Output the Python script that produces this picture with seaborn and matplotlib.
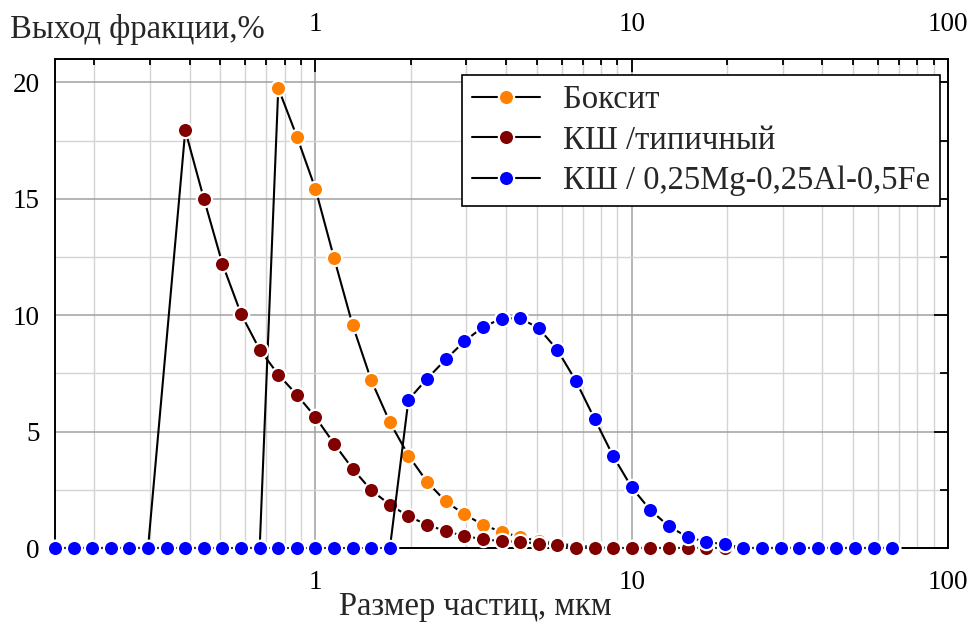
import numpy as np
import pandas as pd
import matplotlib
matplotlib.use("Agg")
import matplotlib.pyplot as plt
import seaborn as sns
from matplotlib.ticker import LogLocator, FuncFormatter, MultipleLocator, NullFormatter

sns.set_style("white")
plt.rcParams['font.family'] = ['Liberation Serif', 'DejaVu Serif']

# размер частиц, мкм
size = [0.1501, 0.1719, 0.1968, 0.2254, 0.2581, 0.2955, 0.3384, 0.3875, 0.4437, 0.5080,
        0.5817, 0.6661, 0.7627, 0.8733, 1.0, 1.145, 1.311, 1.501, 1.719, 1.968,
        2.254, 2.581, 2.955, 3.384, 3.875, 4.437, 5.080, 5.817, 6.661, 7.627,
        8.733, 10.0, 11.45, 13.11, 15.01, 17.19, 19.68, 22.54, 25.81, 29.55,
        33.84, 38.75, 44.37, 50.80, 58.17, 66.61]

# выход фракции, %  (nan - точки нет)
boksit = [0] * 12 + [19.75, 17.67, 15.42, 12.45, 9.57, 7.2, 5.4, 3.97, 2.84, 2.0,
                     1.45, 1.0, 0.69, 0.47, 0.3, 0.19, 0.1, 0.04] + [0] * 16
ksh_typ = [0] * 6 + [np.nan] + [17.93, 15.0, 12.2, 10.05, 8.52, 7.45, 6.58, 5.62, 4.48, 3.4,
                                2.48, 1.86, 1.36, 1.0, 0.72, 0.52, 0.37, 0.3, 0.26, 0.19,
                                0.15] + [0] * 18
ksh_mod = [0] * 19 + [6.37, 7.27, 8.1, 8.87, 9.49, 9.85, 9.87, 9.44, 8.51, 7.17,
                      5.55, 3.95, 2.6, 1.63, 0.93, 0.47, 0.26, 0.16] + [0] * 9

labels = ['Боксит', 'КШ /типичный', 'КШ / 0,25Mg-0,25Al-0,5Fe']
colors = ['#FF8000', '#800000', '#0000FF']

df = pd.DataFrame({'size': size, labels[0]: boksit, labels[1]: ksh_typ, labels[2]: ksh_mod})

fig = plt.figure(figsize=(9.71, 6.24), dpi=100)
ax = fig.add_axes([55 / 971, 76 / 624, 893 / 971, 489 / 624])

for lab, col in zip(labels, colors):
    sns.lineplot(data=df, x='size', y=lab, ax=ax, color='black', lw=1.5,
                 marker='o', markersize=11, markerfacecolor=col,
                 markeredgecolor='white', markeredgewidth=1.6,
                 label=lab, clip_on=False, zorder=3)

ax.set_xscale('log')
ax.set_xlim(0.1501, 100)
ax.set_ylim(0, 21)

ax.xaxis.set_major_locator(LogLocator(base=10, numticks=10))
ax.xaxis.set_minor_locator(LogLocator(base=10, subs=np.arange(2, 10), numticks=20))
ax.xaxis.set_major_formatter(FuncFormatter(lambda v, p: f'{v:g}'))
ax.xaxis.set_minor_formatter(NullFormatter())
ax.yaxis.set_major_locator(MultipleLocator(5))
ax.yaxis.set_minor_locator(MultipleLocator(2.5))

ax.grid(which='major', color='#a0a0a0', lw=1.1)
ax.grid(which='minor', color='#d4d4d4', lw=1.0)
ax.set_axisbelow(True)

ax.tick_params(axis='both', which='both', direction='in', top=True, right=True,
               labeltop=True, labelsize=19.5, colors='black', width=1.3)
ax.tick_params(axis='x', which='major', length=9, pad=16)
ax.tick_params(axis='x', which='minor', length=4.5)
ax.tick_params(axis='y', which='major', length=10, pad=11)
ax.tick_params(axis='y', which='minor', length=6)
for s in ax.spines.values():
    s.set_linewidth(1.4)
    s.set_color('black')

ax.set_xlabel('')
ax.set_ylabel('')
fig.text(0.489, 0.027, 'Размер частиц, мкм', ha='center', va='center', fontsize=23.5)
fig.text(0.01, 0.953, 'Выход фракции,%', ha='left', va='center', fontsize=23.5)

leg = ax.legend(loc='upper right', bbox_to_anchor=(0.991, 0.967), borderaxespad=0,
                fontsize=23.5, frameon=True, fancybox=False, framealpha=1,
                edgecolor='black', handlelength=2.1, handletextpad=0.7,
                labelspacing=0.3, borderpad=0.3)
leg.get_frame().set_linewidth(1.2)
leg.set_zorder(10)

fig.savefig('out.png', dpi=100)
